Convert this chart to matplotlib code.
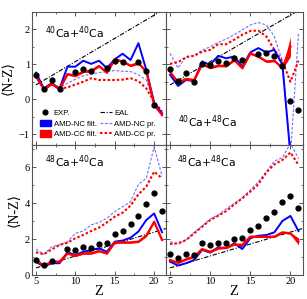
import numpy as np
import matplotlib
matplotlib.use("Agg")
import matplotlib.pyplot as plt
from matplotlib.lines import Line2D
from matplotlib.patches import Patch
from matplotlib.ticker import MultipleLocator

plt.rcParams['mathtext.fontset'] = 'custom'
plt.rcParams['mathtext.rm'] = 'Liberation Sans'

Z = list(range(5, 22))
nan = float('nan')

# ---- 40Ca+40Ca ----
p1_exp = [0.68, 0.29, 0.55, 0.29, nan, 0.77, 0.86, 0.80, nan, 0.89, 1.08, 1.05, nan, 1.05, 0.81, -0.16, nan]
p1_ncf = [0.76, 0.31, 0.46, 0.31, 0.93, 0.93, 1.10, 1.01, 1.10, 0.89, 1.14, 1.30, 1.12, 1.60, 0.84, -0.10, -0.40]
p1_ccf = [0.65, 0.29, 0.44, 0.29, 0.72, 0.67, 0.79, 0.81, 0.95, 0.76, 1.14, 1.08, 0.96, 1.03, 0.79, -0.16, -0.45]
p1_ccf_err = [0.03] * 17
p1_ncp = [0.72, 0.32, 0.42, 0.33, 0.46, 0.57, 0.67, 0.72, 0.76, 0.79, 0.82, 0.80, 0.79, 0.70, 0.55, -0.10, -0.40]
p1_ccp = [0.65, 0.30, 0.42, 0.30, 0.34, 0.42, 0.50, 0.60, 0.55, 0.55, 0.55, 0.56, 0.60, 0.52, 0.31, -0.07, -0.35]

# ---- 40Ca+48Ca ----
p2_exp = [0.87, 0.52, 0.74, 0.49, 1.00, 0.99, 1.10, 1.03, 1.19, 1.11, nan, 1.29, 1.33, 1.24, 0.95, -0.04, -0.31]
p2_ncf = [0.70, 0.38, 0.55, 0.52, 1.08, 0.98, 1.24, 1.17, 1.22, 0.93, 1.34, 1.46, 1.34, 1.41, 0.98, -1.60, nan]
p2_ccf = [0.79, 0.48, 0.58, 0.55, 1.00, 0.90, 0.96, 0.95, 1.12, 0.89, 1.31, 1.22, 1.08, 1.10, 0.89, 1.50, nan]
p2_ccf_err = [0.03] * 15 + [0.28, 0.0]
p2_ncp = [1.31, 0.89, 1.22, 1.25, 1.40, 1.50, 1.62, 1.72, 1.84, 1.98, 2.12, 2.19, 2.12, 1.79, 1.08, -1.60, 1.90]
p2_ccp = [1.01, 1.06, 1.20, 1.24, 1.36, 1.41, 1.57, 1.57, 1.70, 1.84, 1.95, 1.96, 1.79, 1.41, 1.08, 0.50, 1.10]

# ---- 48Ca+40Ca ----
p3_exp = [0.85, 0.57, 0.81, nan, 1.44, 1.41, 1.56, 1.54, 1.76, 1.81, 2.28, 2.46, 2.85, 3.30, 3.96, 4.59, 3.59]
p3_ncf = [0.76, 0.48, 0.67, 0.67, 1.28, 1.13, 1.31, 1.41, 1.50, 1.31, 1.87, 1.93, 2.09, 2.43, 3.07, 3.44, 2.39]
p3_ccf = [0.85, 0.54, 0.76, 0.76, 1.22, 1.09, 1.22, 1.22, 1.35, 1.22, 1.83, 1.83, 1.83, 1.87, 2.20, 2.98, 1.96]
p3_ccf_err = [0.05] * 17
p3_ncp = [1.46, 1.17, 1.59, 1.69, 1.87, 2.33, 2.46, 2.80, 2.94, 3.17, 3.54, 3.81, 4.09, 5.06, 5.39, 7.15, 5.50]
p3_ccp = [1.28, 1.17, 1.44, 1.69, 1.81, 2.06, 2.24, 2.46, 2.65, 2.94, 3.26, 3.48, 3.87, 4.50, 4.93, 5.76, 5.39]

# ---- 48Ca+48Ca ----
p4_exp = [1.17, 0.98, 1.17, 1.13, 1.78, 1.69, 1.81, 1.81, 2.02, 2.06, 2.52, 2.76, 3.20, 3.54, 4.09, 4.43, 3.72]
p4_ncf = [0.76, 0.54, 0.67, 0.85, 1.41, 1.26, 1.56, 1.50, 1.78, 1.46, 2.06, 2.20, 2.24, 2.39, 3.02, 3.30, 2.46]
p4_ccf = [0.85, 0.70, 0.89, 1.04, 1.46, 1.31, 1.50, 1.54, 1.72, 1.69, 2.15, 2.15, 2.15, 2.15, 2.39, 2.33, 1.88]
p4_ccf_err = [0.05] * 16 + [0.20]
p4_ncp = [1.87, 1.72, 1.96, 2.39, 2.74, 3.13, 3.35, 3.69, 4.00, 4.31, 4.74, 5.20, 5.76, 6.35, 6.54, 7.33, 6.50]
p4_ccp = [1.74, 1.78, 1.96, 2.33, 2.70, 3.07, 3.31, 3.57, 3.94, 4.28, 4.65, 5.06, 5.72, 6.17, 6.41, 6.83, 6.13]

# EAL line (same in all panels)
eal_Z = [5, 21.5]
eal_v = [0.41, 2.60]

titles = [r'$\mathregular{^{40}Ca{+}^{40}Ca}$', r'$\mathregular{^{40}Ca{+}^{48}Ca}$',
          r'$\mathregular{^{48}Ca{+}^{40}Ca}$', r'$\mathregular{^{48}Ca{+}^{48}Ca}$']

panels = [
    (p1_exp, p1_ncf, p1_ccf, p1_ccf_err, p1_ncp, p1_ccp),
    (p2_exp, p2_ncf, p2_ccf, p2_ccf_err, p2_ncp, p2_ccp),
    (p3_exp, p3_ncf, p3_ccf, p3_ccf_err, p3_ncp, p3_ccp),
    (p4_exp, p4_ncf, p4_ccf, p4_ccf_err, p4_ncp, p4_ccp),
]

W, H = 307, 299
fig = plt.figure(figsize=(W / 100, H / 100), dpi=100)

def fx(px):
    return px / W

def fy(py):
    return 1 - py / H

lefts = [(32, 166), (166, 302.5)]
rows = [(12, 144.5), (144.5, 275.3)]

serif = ['Liberation Serif', 'DejaVu Serif']
sans = ['Liberation Sans', 'DejaVu Sans']
blue = '#0000ff'
red = '#ff0000'
lblue = '#6f6fff'
axcol = '#555555'

axes = []
for r in range(2):
    for c in range(2):
        x0, x1 = lefts[c]
        y0, y1 = rows[r]
        ax = fig.add_axes([fx(x0), fy(y1), fx(x1 - x0), (y1 - y0) / H])
        axes.append(ax)

for i, ax in enumerate(axes):
    exp, ncf, ccf, ccf_err, ncp, ccp = panels[i]
    Za = np.array(Z, dtype=float)
    ax.plot(Za, ncp, color=lblue, lw=0.8, ls=(0, (2.5, 1.5)), zorder=2)
    ax.plot(Za, ccp, color=red, lw=1.5, ls=(0, (1.2, 1.0)), zorder=2)
    ax.plot(eal_Z, eal_v, color='black', lw=0.8, ls=(0, (4, 1.5, 1, 1.5)), zorder=2)
    ax.plot(Za, ncf, color=blue, lw=1.4, zorder=3)
    c = np.array(ccf, dtype=float)
    e = np.array(ccf_err, dtype=float)
    ax.fill_between(Za, c - e, c + e, color=red, lw=0, zorder=4)
    ax.plot(Za, ccf, color=red, lw=1.6, zorder=4)
    ax.plot(Za, exp, 'o', color='black', ms=3.5, ls='none', zorder=5)

    ax.set_xlim(4.5, 21.5)
    if i < 2:
        ax.set_ylim(-1.29, 2.49)
        ax.yaxis.set_major_locator(MultipleLocator(1))
        ax.yaxis.set_minor_locator(MultipleLocator(0.5))
    else:
        ax.set_ylim(0, 7.27)
        ax.yaxis.set_major_locator(MultipleLocator(2))
        ax.yaxis.set_minor_locator(MultipleLocator(1))
    ax.xaxis.set_major_locator(MultipleLocator(5))
    ax.xaxis.set_minor_locator(MultipleLocator(2.5))
    ax.tick_params(which='both', direction='in', top=True, right=True, color=axcol,
                   labelsize=7.5, pad=1.5)
    ax.tick_params(which='major', length=3, width=0.7)
    ax.tick_params(which='minor', length=1.6, width=0.6)
    for s in ax.spines.values():
        s.set_color(axcol)
        s.set_linewidth(0.8)
    for lab in ax.get_xticklabels() + ax.get_yticklabels():
        lab.set_family(serif)
    if i < 2:
        ax.set_xticklabels([])
    else:
        ax.set_xlabel('Z', family=serif, fontsize=10.5, labelpad=-1)
    if i % 2 == 1:
        ax.set_yticklabels([])
    else:
        ax.set_ylabel('⟨N-Z⟩', family=serif, fontsize=10, labelpad=3)

# panel labels
fig.text(fx(45), fy(33), titles[0], fontsize=7.8, va='center', ha='left')
fig.text(fx(178), fy(122), titles[1], fontsize=7.8, va='center', ha='left')
fig.text(fx(45), fy(162), titles[2], fontsize=7.8, va='center', ha='left')
fig.text(fx(177), fy(162), titles[3], fontsize=7.8, va='center', ha='left')

handles = [
    Line2D([], [], marker='o', color='black', ls='none', ms=3.4),
    Patch(facecolor=blue, edgecolor=blue),
    Patch(facecolor=red, edgecolor=red),
    Line2D([], [], color='black', lw=0.8, ls=(0, (4, 1.5, 1, 1.5))),
    Line2D([], [], color=lblue, lw=0.8, ls=(0, (2.5, 1.5))),
    Line2D([], [], color=red, lw=1.5, ls=(0, (1.2, 1.0))),
]
labels = ['EXP.', 'AMD-NC filt.', 'AMD-CC filt.', 'EAL', 'AMD-NC pr.', 'AMD-CC pr.']
leg = axes[0].legend(handles, labels, ncol=2, loc='lower left', bbox_to_anchor=(0.01, 0.0),
                     frameon=False, prop={'family': sans, 'size': 5.6},
                     handlelength=1.5, handleheight=0.85, handletextpad=0.3,
                     columnspacing=0.45, labelspacing=0.35, borderpad=0.3)

fig.savefig('out.png', dpi=100)
